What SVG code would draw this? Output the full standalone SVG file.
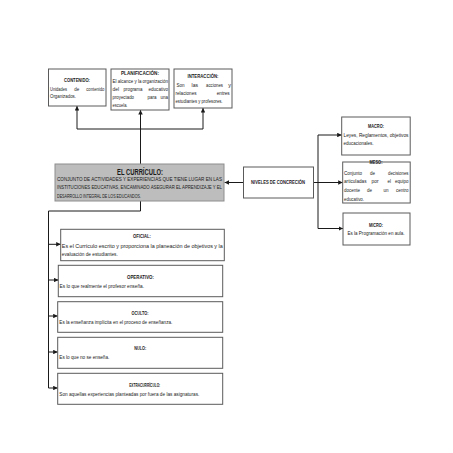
<svg xmlns="http://www.w3.org/2000/svg" width="453" height="453" viewBox="0 0 453 453">
<defs>
<marker id="ah" viewBox="0 0 6 6" refX="6" refY="3" markerWidth="4.5" markerHeight="4.5" orient="auto" markerUnits="userSpaceOnUse">
<path d="M0,0 L6,3 L0,6 z" fill="#1a1a1a"/>
</marker>
<style>
.box{fill:#fff;stroke:#5a5a5a;stroke-width:1}
.main{fill:#bdbdbd;stroke:#8e8e8e;stroke-width:1}
.ln{fill:none;stroke:#1a1a1a;stroke-width:1}
.ar{fill:none;stroke:#1a1a1a;stroke-width:1;marker-end:url(#ah)}
text{font-family:"Liberation Sans",Arial,sans-serif;fill:#1a1a1a}
.h{font-size:5.5px;font-weight:bold;text-anchor:middle}
.b{font-size:5.5px}
.s{font-size:4.9px}
.big{font-size:9.5px;font-weight:bold;text-anchor:middle}
</style>
</defs>
<rect width="453" height="453" fill="#fff"/>
<g id="connectors">
<path class="ar" d="M140.5,164 V110"/>
<path class="ln" d="M77,129 H203"/>
<path class="ar" d="M77,129 V106"/>
<path class="ar" d="M203,129 V108"/>
<path class="ar" d="M243.5,182.5 H224.5"/>
<path class="ln" d="M313.5,182.5 H318 M318,135 V228.5"/>
<path class="ar" d="M318,135 H341.7"/>
<path class="ar" d="M318,182.5 H342.7"/>
<path class="ar" d="M318,228.5 H343"/>
<path class="ln" d="M140.5,201 V211 H48.5 V388"/>
<path class="ar" d="M48.5,244.3 H60.7"/>
<path class="ar" d="M48.5,280 H58.3"/>
<path class="ar" d="M48.5,316 H57.7"/>
<path class="ar" d="M48.5,352 H57.7"/>
<path class="ar" d="M48.5,388 H57.7"/>
</g>
<g id="contenido">
<rect class="box" x="48.5" y="69" width="57.5" height="37"/>
<text class="h" x="77" y="82" textLength="26" lengthAdjust="spacingAndGlyphs">CONTENIDO:</text>
<text class="b" x="50" y="90.7" textLength="17" lengthAdjust="spacingAndGlyphs">Unidades</text>
<text class="b" x="74.3" y="90.7" textLength="5" lengthAdjust="spacingAndGlyphs">de</text>
<text class="b" x="86.3" y="90.7" textLength="18" lengthAdjust="spacingAndGlyphs">contenido</text>
<text class="b" x="50" y="98.3" textLength="26" lengthAdjust="spacingAndGlyphs">Organizados.</text>
</g>
<g id="planificacion">
<rect class="box" x="111" y="69" width="58" height="41"/>
<text class="h" x="140" y="75" textLength="38" lengthAdjust="spacingAndGlyphs">PLANIFICACIÓN:</text>
<text class="s" x="112.5" y="83" textLength="55.5" lengthAdjust="spacingAndGlyphs">El alcance y la organización</text>
<text class="b" x="112.5" y="91" textLength="6.5" lengthAdjust="spacingAndGlyphs">del</text>
<text class="b" x="123.5" y="91" textLength="19" lengthAdjust="spacingAndGlyphs">programa</text>
<text class="b" x="148.5" y="91" textLength="19.5" lengthAdjust="spacingAndGlyphs">educativo</text>
<text class="b" x="112.5" y="99" textLength="21.5" lengthAdjust="spacingAndGlyphs">proyectado</text>
<text class="b" x="147.5" y="99" textLength="9" lengthAdjust="spacingAndGlyphs">para</text>
<text class="b" x="160.5" y="99" textLength="7.5" lengthAdjust="spacingAndGlyphs">una</text>
<text class="b" x="112.5" y="106.5" textLength="15" lengthAdjust="spacingAndGlyphs">escuela.</text>
</g>
<g id="interaccion">
<rect class="box" x="174" y="69" width="58" height="39"/>
<text class="h" x="203" y="78" textLength="31" lengthAdjust="spacingAndGlyphs">INTERACCIÓN:</text>
<text class="b" x="176.5" y="87" textLength="8" lengthAdjust="spacingAndGlyphs">Son</text>
<text class="b" x="191.5" y="87" textLength="6.5" lengthAdjust="spacingAndGlyphs">las</text>
<text class="b" x="206" y="87" textLength="17" lengthAdjust="spacingAndGlyphs">acciones</text>
<text class="b" x="228.3" y="87" textLength="2.7" lengthAdjust="spacingAndGlyphs">y</text>
<text class="b" x="175.5" y="95.3" textLength="21" lengthAdjust="spacingAndGlyphs">relaciones</text>
<text class="b" x="216.7" y="95.3" textLength="13" lengthAdjust="spacingAndGlyphs">entres</text>
<text class="b" x="175.5" y="103" textLength="47" lengthAdjust="spacingAndGlyphs">estudiantes y profesores.</text>
</g>
<g id="curriculo">
<rect class="main" x="55" y="164" width="169" height="37"/>
<text class="big" x="140" y="174.5" textLength="46" lengthAdjust="spacingAndGlyphs">EL CURRÍCULO:</text>
<text class="b" x="57" y="180.7" textLength="165" lengthAdjust="spacingAndGlyphs">CONJUNTO DE ACTIVIDADES Y EXPERIENCIAS QUE TIENE LUGAR EN LAS</text>
<text class="b" x="57" y="189" textLength="165" lengthAdjust="spacingAndGlyphs">INSTITUCIONES EDUCATIVAS, ENCAMINADO ASEGURAR EL APRENDIZAJE Y EL</text>
<text class="b" x="57" y="197.7" textLength="84" lengthAdjust="spacingAndGlyphs">DESARROLLO INTEGRAL DE LOS EDUCANDOS.</text>
</g>
<g id="niveles">
<rect class="box" x="243.5" y="167" width="70" height="31"/>
<text class="h" x="278" y="184.3" textLength="54" lengthAdjust="spacingAndGlyphs">NIVELES DE CONCRECIÓN</text>
</g>
<g id="macro">
<rect class="box" x="341.7" y="117" width="68.5" height="38"/>
<text class="h" x="376" y="128" textLength="16" lengthAdjust="spacingAndGlyphs">MACRO:</text>
<text class="b" x="343.5" y="137" textLength="65" lengthAdjust="spacingAndGlyphs">Leyes, Reglamentos, objetivos</text>
<text class="b" x="343.5" y="145.3" textLength="30" lengthAdjust="spacingAndGlyphs">educacionales.</text>
</g>
<g id="meso">
<rect class="box" x="342.7" y="162" width="67.5" height="41"/>
<text class="h" x="376" y="164.3" textLength="13" lengthAdjust="spacingAndGlyphs">MESO:</text>
<text class="b" x="344" y="174.5" textLength="18" lengthAdjust="spacingAndGlyphs">Conjunto</text>
<text class="b" x="370" y="174.5" textLength="5" lengthAdjust="spacingAndGlyphs">de</text>
<text class="b" x="388" y="174.5" textLength="20.5" lengthAdjust="spacingAndGlyphs">decisiones</text>
<text class="b" x="344" y="183" textLength="22.5" lengthAdjust="spacingAndGlyphs">articuladas</text>
<text class="b" x="371.5" y="183" textLength="7" lengthAdjust="spacingAndGlyphs">por</text>
<text class="b" x="387.5" y="183" textLength="3.5" lengthAdjust="spacingAndGlyphs">el</text>
<text class="b" x="395" y="183" textLength="13.5" lengthAdjust="spacingAndGlyphs">equipo</text>
<text class="b" x="344" y="192.3" textLength="16" lengthAdjust="spacingAndGlyphs">docente</text>
<text class="b" x="367" y="192.3" textLength="5" lengthAdjust="spacingAndGlyphs">de</text>
<text class="b" x="383.5" y="192.3" textLength="5" lengthAdjust="spacingAndGlyphs">un</text>
<text class="b" x="396" y="192.3" textLength="12.5" lengthAdjust="spacingAndGlyphs">centro</text>
<text class="b" x="344" y="201" textLength="20" lengthAdjust="spacingAndGlyphs">educativo.</text>
</g>
<g id="micro">
<rect class="box" x="343" y="213" width="67" height="32"/>
<text class="h" x="376" y="227" textLength="14" lengthAdjust="spacingAndGlyphs">MICRO:</text>
<text class="b" x="376" y="234.7" text-anchor="middle" textLength="57" lengthAdjust="spacingAndGlyphs">Es la Programación en aula.</text>
</g>
<g id="oficial">
<rect class="box" x="60.7" y="229.3" width="163.6" height="31.4"/>
<text class="h" x="142" y="238" textLength="18" lengthAdjust="spacingAndGlyphs">OFICIAL:</text>
<text class="b" x="61.8" y="247.7" textLength="161" lengthAdjust="spacingAndGlyphs">Es el Currículo escrito y proporciona la planeación de objetivos y la</text>
<text class="b" x="61.8" y="256" textLength="56" lengthAdjust="spacingAndGlyphs">evaluación de estudiantes.</text>
</g>
<g id="operativo">
<rect class="box" x="58.3" y="265.3" width="164.4" height="31.4"/>
<text class="h" x="140.5" y="278.7" textLength="27" lengthAdjust="spacingAndGlyphs">OPERATIVO:</text>
<text class="b" x="59.5" y="287.7" textLength="84.5" lengthAdjust="spacingAndGlyphs">Es lo que realmente el profesor enseña.</text>
</g>
<g id="oculto">
<rect class="box" x="57.7" y="301.7" width="165" height="30.6"/>
<text class="h" x="140" y="315.3" textLength="17" lengthAdjust="spacingAndGlyphs">OCULTO:</text>
<text class="b" x="59.3" y="324.3" textLength="113" lengthAdjust="spacingAndGlyphs">Es la enseñanza implícita en el proceso de enseñanza.</text>
</g>
<g id="nulo">
<rect class="box" x="57.7" y="337.3" width="165" height="31"/>
<text class="h" x="140.2" y="350.3" textLength="12" lengthAdjust="spacingAndGlyphs">NULO:</text>
<text class="b" x="59.3" y="359.3" textLength="50" lengthAdjust="spacingAndGlyphs">Es lo que no se enseña.</text>
</g>
<g id="extracurriculo">
<rect class="box" x="57.7" y="373.3" width="165" height="31"/>
<text class="h" x="144.7" y="387" textLength="31" lengthAdjust="spacingAndGlyphs">EXTRACURRÍCULO:</text>
<text class="b" x="59.3" y="396" textLength="140" lengthAdjust="spacingAndGlyphs">Son aquellas experiencias planteadas por fuera de las asignaturas.</text>
</g>
</svg>
